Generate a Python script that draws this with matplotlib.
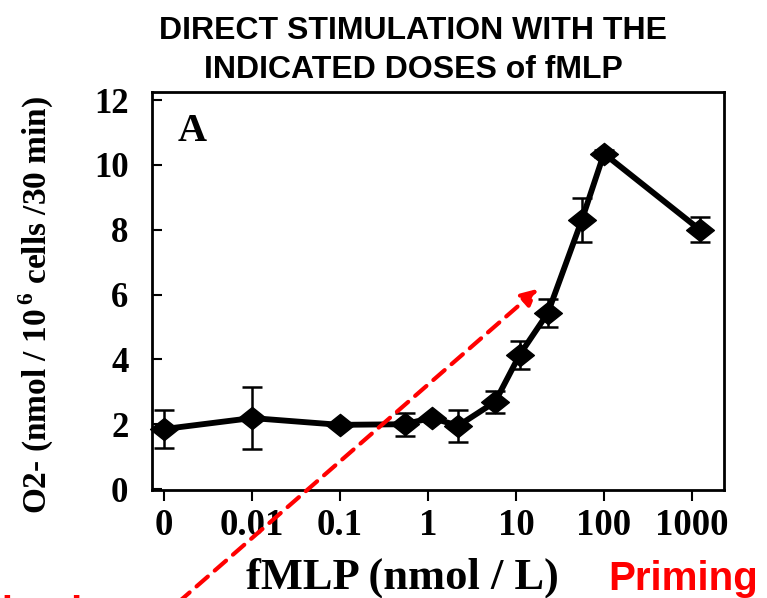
import numpy as np
import matplotlib
matplotlib.use("Agg")
import matplotlib.pyplot as plt
from matplotlib.path import Path

# values
dose_labels = ["0", "0.01", "0.1", "1", "10", "100", "1000"]
tick_pos = [-3, -2, -1, 0, 1, 2, 3]          # "0" drawn one decade left of 0.01
doses = [0, 0.01, 0.1, 0.55, 1.1, 2.2, 5.8, 11, 23, 56, 100, 1230]
o2 = [1.85, 2.19, 1.98, 2.0, 2.2, 1.95, 2.69, 4.14, 5.43, 8.3, 10.35, 8.0]
err = [0.58, 0.96, 0.0, 0.35, 0.0, 0.5, 0.35, 0.43, 0.43, 0.68, 0.1, 0.39]

xpos = [np.log10(d) if d > 0 else -3 for d in doses]

plt.rcParams['font.family'] = ['Liberation Serif', 'DejaVu Serif']
plt.rcParams['font.weight'] = 'bold'
plt.rcParams['mathtext.fontset'] = 'custom'
plt.rcParams['mathtext.rm'] = 'Liberation Serif:bold'
plt.rcParams['mathtext.bf'] = 'Liberation Serif:bold'

W, H = 767, 598
fig = plt.figure(figsize=(W / 100, H / 100), dpi=100)
ax = fig.add_axes([152 / W, 1 - 490 / H, (724 - 152) / W, (490 - 92) / H])

diamond = Path([(-1, 0), (0, 0.8), (1, 0), (0, -0.8), (-1, 0)],
               [Path.MOVETO, Path.LINETO, Path.LINETO, Path.LINETO, Path.CLOSEPOLY])

ax.errorbar(xpos, o2, yerr=err, fmt='none', ecolor='black', elinewidth=1.8,
            capsize=7.5, capthick=1.8, zorder=2, clip_on=False)
ax.plot(xpos, o2, color='black', lw=4.2, marker=diamond, ms=20,
        mfc='black', mec='black', zorder=3, clip_on=False)

ax.set_xlim(-3.136, 3.364)
ax.set_ylim(-0.03, 12.25)
ax.set_xticks(tick_pos)
ax.set_xticklabels(dose_labels)
ax.set_yticks(range(0, 13, 2))

ax.tick_params(axis='y', direction='in', length=7, width=1.5, pad=17, labelsize=25)
ax.tick_params(axis='x', direction='out', length=8, width=1.5, pad=5, labelsize=26.5)
for s in ax.spines.values():
    s.set_linewidth(2)

ax.text(178 / W, 1 - 113 / H, "A", transform=fig.transFigure, fontsize=29,
        fontweight='bold', va='top', ha='left')

fig.text(36 / W, 1 - 305 / H, "O2- (nmol / 10$^{\\,6}$ cells /30 min)",
         rotation=90, ha='center', va='center', fontsize=24, fontweight='bold')
fig.text(402 / W, 1 - 589 / H, "fMLP (nmol / L)", ha='center', va='baseline',
         fontsize=32, fontweight='bold')

sans = ['Liberation Sans', 'DejaVu Sans']
fig.text(413 / W, 1 - 39 / H, "DIRECT STIMULATION WITH THE", ha='center',
         va='baseline', fontsize=23, fontweight='bold', family=sans)
fig.text(413 / W, 1 - 78 / H, "INDICATED DOSES of fMLP", ha='center',
         va='baseline', fontsize=23, fontweight='bold', family=sans)
fig.text(608 / W, 1 - 590 / H, "Priming", ha='left', va='baseline',
         fontsize=29, fontweight='bold', color='red', family=sans)
# only the top of this word shows at the bottom edge of the slide
fig.text(-63 / W, 1 - 625 / H, "Activation", ha='left', va='baseline',
         fontsize=29, fontweight='bold', color='red', family=sans)

ax.annotate('', xy=(540, H - 287), xycoords='figure pixels',
            xytext=(158, H - 620), textcoords='figure pixels',
            arrowprops=dict(arrowstyle='-|>', color='red', lw=3,
                            linestyle=(0, (3.6, 2.2)), mutation_scale=24),
            annotation_clip=False, zorder=10)

fig.savefig("out.png", dpi=100)
